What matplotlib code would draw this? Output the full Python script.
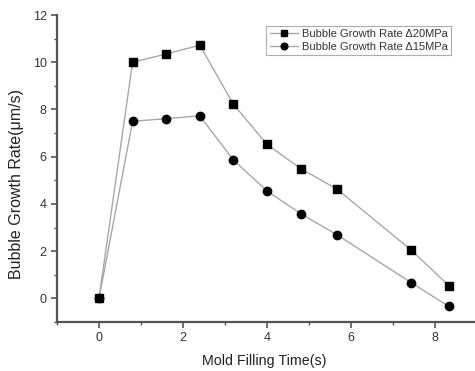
import matplotlib
matplotlib.use("Agg")
import matplotlib.pyplot as plt
from matplotlib.ticker import MultipleLocator

time_s = [0, 0.8, 1.6, 2.4, 3.2, 4.0, 4.8, 5.67, 7.43, 8.33]
rate_20mpa = [0, 10.0, 10.35, 10.72, 8.22, 6.52, 5.5, 4.62, 2.05, 0.54]
rate_15mpa = [0, 7.5, 7.61, 7.73, 5.86, 4.55, 3.59, 2.69, 0.67, -0.34]
label_20 = "Bubble Growth Rate \u039420MPa"
label_15 = "Bubble Growth Rate \u039415MPa"

plt.rcParams['font.family'] = ['Liberation Sans', 'DejaVu Sans']

fig = plt.figure(figsize=(4.75, 3.71), dpi=100)
ax = fig.add_axes([57 / 475, 1 - 322 / 371, 420 / 475, (322 - 15) / 371])

line_c = '#a8a8a8'
ax.plot(time_s, rate_20mpa, color=line_c, lw=1.0, marker='s', ms=5.5,
        mfc='black', mec='black', label=label_20)
ax.plot(time_s, rate_15mpa, color=line_c, lw=1.0, marker='o', ms=6,
        mfc='black', mec='black', label=label_15)

ax.set_xlim(-1, 9)
ax.set_ylim(-1, 12)
ax.xaxis.set_major_locator(MultipleLocator(2))
ax.xaxis.set_minor_locator(MultipleLocator(1))
ax.yaxis.set_major_locator(MultipleLocator(2))
ax.yaxis.set_minor_locator(MultipleLocator(1))

spine_c = '#555555'
for s in ['top', 'right']:
    ax.spines[s].set_visible(False)
for s in ['left', 'bottom']:
    ax.spines[s].set_color(spine_c)
    ax.spines[s].set_linewidth(1.6)

ax.tick_params(which='major', direction='out', length=4, width=1.2,
               colors=spine_c, labelsize=9, labelcolor='#333333')
ax.tick_params(which='minor', direction='out', length=2.5, width=1.0,
               colors=spine_c)

ax.set_xlabel("Mold Filling Time(s)", fontsize=10.3, color='#222222')
ax.set_ylabel("Bubble Growth Rate(\u03bcm/s)", fontsize=11.5, color='#222222')
ax.xaxis.set_label_coords(264 / 475, 1 - 361 / 371, transform=fig.transFigure)
ax.yaxis.set_label_coords(17 / 475, 1 - 184 / 371, transform=fig.transFigure)
ax.xaxis.label.set_va('center')
ax.yaxis.label.set_va('center')

leg = ax.legend(loc='upper right', fontsize=8, frameon=True, fancybox=False,
                handlelength=2.6, borderpad=0.3, labelspacing=0.2,
                handletextpad=0.3, borderaxespad=0, markerscale=0.8)
leg.set_bbox_to_anchor((451 / 475, 1 - 26 / 371), transform=fig.transFigure)
leg.get_frame().set_edgecolor('#999999')
leg.get_frame().set_linewidth(0.8)
for t in leg.get_texts():
    t.set_color('#333333')

fig.savefig("out.png", dpi=100)
